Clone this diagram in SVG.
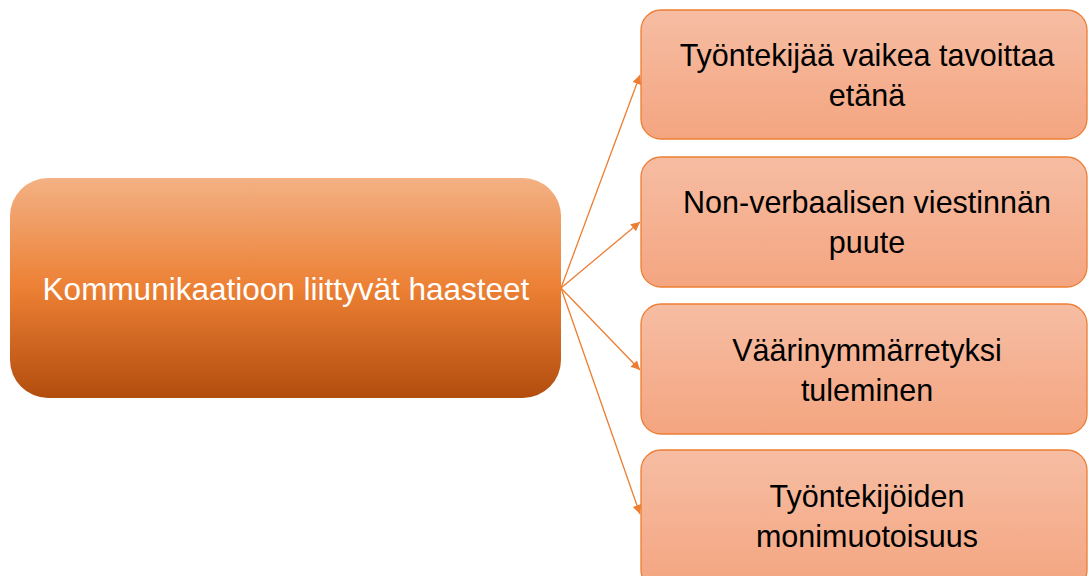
<svg xmlns="http://www.w3.org/2000/svg" width="1088" height="576" viewBox="0 0 1088 576">
<defs>
<linearGradient id="gMain" x1="0" y1="0" x2="0" y2="1">
<stop offset="0" stop-color="#F3B184"/>
<stop offset="0.5" stop-color="#EC8034"/>
<stop offset="1" stop-color="#B24D0E"/>
</linearGradient>
<linearGradient id="gSub" x1="0" y1="0" x2="0" y2="1">
<stop offset="0" stop-color="#F6BDA3"/>
<stop offset="1" stop-color="#F4A580"/>
</linearGradient>
<marker id="arr" viewBox="0 0 10 10" refX="10" refY="5" markerWidth="10" markerHeight="9" markerUnits="userSpaceOnUse" orient="auto">
<path d="M0,0 L10,5 L0,10 z" fill="#ED7D31"/>
</marker>
<style>
.sub{fill:url(#gSub);stroke:#ED7D31;stroke-width:1.3}
.st{font-family:"Liberation Sans",Arial,sans-serif;font-size:30.5px;fill:#000;text-anchor:middle}
.mt{font-family:"Liberation Sans",Arial,sans-serif;font-size:31.5px;fill:#fff;text-anchor:middle}
.conn{stroke:#ED7D31;stroke-width:1.3;fill:none;marker-end:url(#arr)}
</style>
</defs>
<g id="connectors">
<line class="conn" x1="561" y1="288" x2="640" y2="75"/>
<line class="conn" x1="561" y1="288" x2="640" y2="222"/>
<line class="conn" x1="561" y1="288" x2="640" y2="370"/>
<line class="conn" x1="561" y1="288" x2="640" y2="514"/>
</g>
<g id="main">
<rect x="10" y="178" width="551" height="220" rx="38" fill="url(#gMain)"/>
<text class="mt" x="286" y="300">Kommunikaatioon liittyvät haasteet</text>
</g>
<g id="n1">
<rect class="sub" x="641" y="10" width="446" height="129" rx="20"/>
<text class="st" x="867" y="66">Työntekijää vaikea tavoittaa</text>
<text class="st" x="867" y="106">etänä</text>
</g>
<g id="n2">
<rect class="sub" x="641" y="157" width="446" height="130" rx="20"/>
<text class="st" x="867" y="213">Non-verbaalisen viestinnän</text>
<text class="st" x="867" y="253">puute</text>
</g>
<g id="n3">
<rect class="sub" x="641" y="304" width="446" height="130" rx="20"/>
<text class="st" x="867" y="361">Väärinymmärretyksi</text>
<text class="st" x="867" y="401">tuleminen</text>
</g>
<g id="n4">
<rect class="sub" x="641" y="450" width="446" height="140" rx="20"/>
<text class="st" x="867" y="507">Työntekijöiden</text>
<text class="st" x="867" y="547">monimuotoisuus</text>
</g>
</svg>
